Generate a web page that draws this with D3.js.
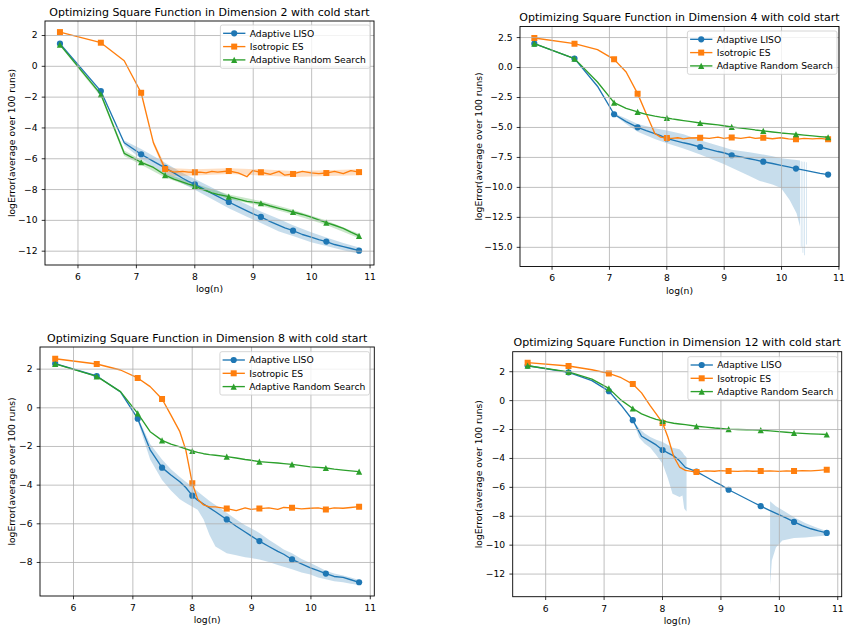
<!DOCTYPE html>
<html>
<head>
<meta charset="utf-8">
<script src="https://cdn.jsdelivr.net/npm/d3@7"></script>
<style>
	body { margin: 0; background: #fff; }
	svg text { font-family: "DejaVu Sans", sans-serif; fill: #000; }
</style>
</head>
<body>
<svg id="fig" width="850" height="632"></svg>
<script>
// log(n) grid shared by every curve, markers sit on a subset of it
var logN = [5.70, 6.40, 6.80, 7.09, 7.30, 7.50, 7.65, 7.80, 7.90, 8.01, 8.10, 8.20, 8.30, 8.40, 8.59, 8.75,
	8.90, 9.00, 9.14, 9.30, 9.45, 9.55, 9.69, 9.85, 10.00, 10.13, 10.26, 10.40, 10.55, 10.68, 10.82];
var markerIdx = [0, 1, 3, 5, 9, 14, 18, 22, 26, 30];
var seriesNames = ["Adaptive LISO", "Isotropic ES", "Adaptive Random Search"];
var xTicks = [6, 7, 8, 9, 10, 11];

// dimension 2
var d2Liso = [1.44, -1.64, -4.99, -5.74, -6.2, -6.62, -6.95, -7.3, -7.5, -7.69, -7.88, -8.08, -8.28, -8.47, -8.84, -9.14,
	-9.41, -9.6, -9.81, -10.11, -10.36, -10.52, -10.7, -10.95, -11.12, -11.28, -11.41, -11.6, -11.74, -11.86, -12.0];
var d2Es = [2.19, 1.5, 0.33, -1.75, -5.0, -6.7, -6.9, -6.85, -6.9, -6.91, -6.9, -6.95, -6.85, -6.9, -6.83, -6.95,
	-7.2, -6.8, -6.91, -7.05, -6.85, -7.1, -7.02, -6.85, -6.95, -7.0, -6.96, -6.85, -7.0, -6.8, -6.9];
var d2Ars = [1.38, -1.85, -5.68, -6.26, -6.6, -7.09, -7.35, -7.55, -7.68, -7.8, -7.95, -8.1, -8.25, -8.35, -8.49, -8.65,
	-8.8, -8.85, -8.92, -9.1, -9.25, -9.35, -9.49, -9.65, -9.82, -10.0, -10.18, -10.35, -10.55, -10.8, -11.04];
var d2LisoBandX = [6.80, 7.09, 7.30, 7.50, 7.80, 8.01, 8.30, 8.59, 8.90, 9.14, 9.45, 9.69, 10.00, 10.26, 10.55, 10.82];
var d2LisoBandHi = [-4.85, -5.4, -5.85, -6.3, -6.95, -7.35, -7.9, -8.45, -9.0, -9.45, -9.95, -10.35, -10.8, -11.15, -11.5, -11.8];
var d2LisoBandLo = [-5.15, -6.05, -6.55, -7.0, -7.65, -8.05, -8.65, -9.25, -9.8, -10.2, -10.75, -11.05, -11.45, -11.7, -11.98, -12.2];
var d2EsBandX = [7.30, 7.50, 7.65, 8.01, 8.59, 9.14, 9.69, 10.26, 10.82];
var d2EsBandHi = [-4.85, -6.45, -6.65, -6.72, -6.65, -6.72, -6.82, -6.78, -6.72];
var d2EsBandLo = [-5.15, -6.95, -7.15, -7.12, -7.02, -7.12, -7.22, -7.16, -7.1];
var d2ArsBandX = [5.70, 6.40, 6.80, 7.09, 7.50, 8.01, 8.59, 9.14, 9.69, 10.26, 10.82];
var d2ArsBandHi = [1.45, -1.7, -5.5, -6.1, -6.95, -7.65, -8.35, -8.78, -9.35, -10.04, -10.9];
var d2ArsBandLo = [1.3, -2.0, -5.85, -6.42, -7.25, -7.95, -8.65, -9.08, -9.65, -10.34, -11.2];

// dimension 4
var d4Liso = [1.95, 0.7, -1.6, -3.94, -4.55, -5.03, -5.3, -5.55, -5.72, -5.97, -6.08, -6.2, -6.32, -6.42, -6.67, -6.87,
	-7.05, -7.15, -7.36, -7.5, -7.65, -7.75, -7.9, -8.05, -8.2, -8.33, -8.47, -8.6, -8.75, -8.87, -8.97];
var d4Es = [2.42, 1.95, 1.45, 0.64, -0.42, -2.22, -3.9, -5.55, -5.85, -5.93, -5.95, -5.9, -6.0, -5.92, -5.9, -5.95,
	-5.85, -5.95, -5.88, -5.95, -5.85, -5.95, -5.9, -5.98, -5.9, -6.0, -6.03, -5.95, -6.0, -5.95, -6.03];
var d4Ars = [1.95, 0.7, -1.25, -2.97, -3.45, -3.75, -3.95, -4.1, -4.18, -4.25, -4.33, -4.4, -4.47, -4.53, -4.67, -4.75,
	-4.83, -4.9, -5.0, -5.1, -5.18, -5.25, -5.33, -5.42, -5.5, -5.55, -5.61, -5.68, -5.75, -5.8, -5.86];
var d4LisoBandX = [7.09, 7.30, 7.50, 7.80, 8.01, 8.30, 8.59, 9.00, 9.14, 9.45, 9.63, 9.85, 10.00, 10.15, 10.27, 10.33,
	10.337, 10.345, 10.357, 10.365, 10.375, 10.387, 10.395, 10.405, 10.417, 10.425, 10.435, 10.447];
var d4LisoBandHi = [-3.85, -4.3, -4.75, -5.1, -5.3, -5.6, -6.1, -6.7, -6.9, -7.1, -7.25, -7.45, -7.6, -7.7, -7.75, -7.8,
	null, -7.85, -7.85, null, -7.9, -7.9, null, -7.9, -7.9, null, -7.95, -7.95];
var d4LisoBandLo = [-4.0, -4.75, -5.4, -6.0, -6.35, -6.8, -7.3, -8.1, -8.4, -9.1, -9.5, -9.8, -10.1, -11.1, -12.2, -13.3,
	null, -15.0, -15.0, null, -15.5, -15.5, null, -15.7, -15.7, null, -14.8, -14.8];

// dimension 8
var d8Liso = [2.26, 1.62, 0.8, -0.59, -2.2, -3.12, -3.5, -3.85, -4.15, -4.57, -4.8, -5.0, -5.2, -5.4, -5.8, -6.15,
	-6.45, -6.65, -6.92, -7.2, -7.45, -7.6, -7.87, -8.1, -8.3, -8.45, -8.6, -8.75, -8.8, -8.92, -9.05];
var d8Es = [2.51, 2.24, 1.93, 1.52, 1.07, 0.43, -0.4, -1.26, -2.2, -3.93, -4.75, -5.05, -5.15, -5.15, -5.24, -5.34,
	-5.2, -5.28, -5.24, -5.2, -5.28, -5.18, -5.2, -5.25, -5.22, -5.2, -5.28, -5.2, -5.22, -5.18, -5.14];
var d8Ars = [2.25, 1.6, 0.81, -0.31, -1.26, -1.71, -1.9, -2.05, -2.15, -2.26, -2.33, -2.4, -2.45, -2.48, -2.55, -2.62,
	-2.7, -2.74, -2.81, -2.85, -2.88, -2.91, -2.95, -3.02, -3.08, -3.11, -3.14, -3.2, -3.25, -3.29, -3.33];
var d8LisoBandX = [7.09, 7.30, 7.50, 7.65, 7.80, 7.90, 8.01, 8.10, 8.20, 8.30, 8.40, 8.59, 8.75, 8.90, 9.00, 9.14,
	9.30, 9.45, 9.55, 9.69, 9.85, 10.00, 10.13, 10.26, 10.40, 10.55, 10.68, 10.82];
var d8LisoBandHi = [-0.5, -1.9, -2.7, -3.2, -3.6, -3.85, -4.1, -4.35, -4.6, -4.85, -5.05, -5.45, -5.8, -6.1, -6.25, -6.5,
	-6.85, -7.15, -7.35, -7.55, -7.85, -8.05, -8.25, -8.45, -8.6, -8.7, -8.8, -8.93];
var d8LisoBandLo = [-0.7, -2.7, -3.76, -4.3, -4.75, -4.95, -5.14, -5.3, -5.8, -6.6, -7.2, -7.55, -7.65, -7.75, -7.8, -7.87,
	-8.0, -8.15, -8.25, -8.38, -8.55, -8.65, -8.8, -8.9, -9.0, -9.05, -9.12, -9.19];

// dimension 12
var d12Liso = [2.38, 1.92, 1.35, 0.62, -0.35, -1.39, -2.5, -2.85, -3.1, -3.45, -3.65, -3.85, -4.2, -4.65, -4.95, -5.3,
	-5.65, -5.85, -6.2, -6.53, -6.84, -7.05, -7.34, -7.64, -7.92, -8.16, -8.43, -8.68, -8.9, -9.05, -9.19];
var d12Es = [2.59, 2.36, 2.1, 1.85, 1.55, 1.11, 0.5, -0.4, -0.95, -1.58, -2.55, -3.9, -4.63, -4.86, -4.98, -4.9,
	-4.92, -4.88, -4.91, -4.93, -4.89, -4.92, -4.91, -4.9, -4.93, -4.89, -4.91, -4.88, -4.9, -4.86, -4.81];
var d12Ars = [2.38, 1.95, 1.45, 0.81, 0.0, -0.58, -0.95, -1.2, -1.33, -1.44, -1.52, -1.6, -1.65, -1.7, -1.81, -1.87,
	-1.93, -1.96, -2.01, -2.03, -2.05, -2.06, -2.08, -2.13, -2.18, -2.22, -2.27, -2.3, -2.33, -2.35, -2.38];
var d12LisoBandX = [7.50, 7.61, 7.70, 7.80, 7.90, 8.01, 8.10, 8.18, 8.30, 8.35, 8.38, 8.42, 9.00, 9.85, 9.88, 9.95,
	10.06, 10.26, 10.45, 10.63, 10.82];
var d12LisoBandHi = [-1.39, -1.97, -2.3, -2.55, -2.75, -2.9, -3.1, -3.3, -3.4, -3.6, -3.8, -3.95, null, -7.0, -7.1, -7.35,
	-7.6, -8.1, -8.5, -8.8, -9.05];
var d12LisoBandLo = [-1.39, -2.6, -3.0, -3.3, -3.8, -4.4, -5.4, -6.48, -6.7, -6.6, -7.5, -7.7, null, -12.8, -11.1, -10.2,
	-9.72, -9.54, -9.5, -9.44, -9.37];

var colors = ["#1f77b4", "#ff7f0e", "#2ca02c"];
var shapes = ["circle", "square", "triangle"];

var panels = [
	{ dim: 2, series: [d2Liso, d2Es, d2Ars],
		bands: [[0, d2LisoBandX, d2LisoBandLo, d2LisoBandHi], [1, d2EsBandX, d2EsBandLo, d2EsBandHi], [2, d2ArsBandX, d2ArsBandLo, d2ArsBandHi]],
		box: { l: 45, r: 374, t: 21, b: 265 }, xDom: [5.444, 11.076], yDom: [-12.93, 2.91],
		yTicks: [-12, -10, -8, -6, -4, -2, 0, 2], fmt: "d", ylabX: 15, legend: { r: 370, t: 25 } },
	{ dim: 4, series: [d4Liso, d4Es, d4Ars],
		bands: [[0, d4LisoBandX, d4LisoBandLo, d4LisoBandHi]],
		box: { l: 520, r: 839, t: 26.5, b: 266.5 }, xDom: [5.45, 11.01], yDom: [-16.64, 3.38],
		yTicks: [-15, -12.5, -10, -7.5, -5, -2.5, 0, 2.5], fmt: ".1f", ylabX: 482, legend: { r: 837, t: 31 } },
	{ dim: 8, series: [d8Liso, d8Es, d8Ars],
		bands: [[0, d8LisoBandX, d8LisoBandLo, d8LisoBandHi]],
		box: { l: 40, r: 374.3, t: 347, b: 596 }, xDom: [5.444, 11.076], yDom: [-9.76, 3.12],
		yTicks: [-8, -6, -4, -2, 0, 2], fmt: "d", ylabX: 15, legend: { r: 369.5, t: 351.7 } },
	{ dim: 12, series: [d12Liso, d12Es, d12Ars],
		bands: [[0, d12LisoBandX, d12LisoBandLo, d12LisoBandHi]],
		box: { l: 512.7, r: 841.7, t: 351.7, b: 596.7 }, xDom: [5.444, 11.076], yDom: [-13.6, 3.35],
		yTicks: [-12, -10, -8, -6, -4, -2, 0, 2], fmt: "d", ylabX: 482, legend: { r: 837.5, t: 356.7 } }
];

var svg = d3.select("#fig");

function markerPath(shape) {
	if (shape == "circle") return d3.symbol(d3.symbolCircle, Math.PI * 3.1 * 3.1)();
	if (shape == "square") return "M-3,-3H3V3H-3Z";
	return "M0,-3.1L3.1,3.1L-3.1,3.1Z";
}

function drawPanel(p, k) {
	var b = p.box;
	var x = d3.scaleLinear().domain(p.xDom).range([b.l, b.r]);
	var y = d3.scaleLinear().domain(p.yDom).range([b.b, b.t]);
	var g = svg.append("g");

	g.append("clipPath").attr("id", "clip" + k).append("rect")
		.attr("x", b.l).attr("y", b.t).attr("width", b.r - b.l).attr("height", b.b - b.t);
	var plot = g.append("g").attr("clip-path", "url(#clip" + k + ")");

	// shaded bands
	p.bands.forEach(function(bd) {
		var pts = bd[1].map(function(xv, i) { return { x: xv, lo: bd[2][i], hi: bd[3][i] }; });
		var area = d3.area().defined(function(d) { return d.lo != null; })
			.x(function(d) { return x(d.x); })
			.y0(function(d) { return y(d.lo); })
			.y1(function(d) { return y(d.hi); });
		plot.append("path").datum(pts).attr("d", area)
			.attr("fill", colors[bd[0]]).attr("fill-opacity", 0.25);
	});

	// grid
	var gx = g.append("g").attr("transform", "translate(0," + b.b + ")")
		.call(d3.axisBottom(x).tickValues(xTicks).tickSize(-(b.b - b.t)).tickFormat(""));
	var gy = g.append("g").attr("transform", "translate(" + b.l + ",0)")
		.call(d3.axisLeft(y).tickValues(p.yTicks).tickSize(-(b.r - b.l)).tickFormat(""));
	[gx, gy].forEach(function(a) {
		a.select(".domain").remove();
		a.selectAll("line").attr("stroke", "#b0b0b0").attr("stroke-width", 0.8);
	});

	// lines and markers
	p.series.forEach(function(vals, s) {
		var pts = logN.map(function(xv, i) { return [xv, vals[i]]; });
		var line = d3.line().x(function(d) { return x(d[0]); }).y(function(d) { return y(d[1]); });
		plot.append("path").datum(pts).attr("d", line)
			.attr("fill", "none").attr("stroke", colors[s]).attr("stroke-width", 1.35)
			.attr("stroke-linejoin", "round");
		plot.selectAll(null).data(markerIdx).enter().append("path")
			.attr("d", markerPath(shapes[s]))
			.attr("transform", function(i) { return "translate(" + x(logN[i]) + "," + y(vals[i]) + ")"; })
			.attr("fill", colors[s]);
	});

	// spines
	g.append("rect").attr("x", b.l).attr("y", b.t).attr("width", b.r - b.l).attr("height", b.b - b.t)
		.attr("fill", "none").attr("stroke", "#000").attr("stroke-width", 0.9);

	// axes
	var ax = g.append("g").attr("transform", "translate(0," + b.b + ")")
		.call(d3.axisBottom(x).tickValues(xTicks).tickSize(3.3).tickPadding(5).tickFormat(d3.format("d")));
	var ay = g.append("g").attr("transform", "translate(" + b.l + ",0)")
		.call(d3.axisLeft(y).tickValues(p.yTicks).tickSize(3.3).tickPadding(4.2).tickFormat(d3.format(p.fmt)));
	[ax, ay].forEach(function(a) {
		a.select(".domain").remove();
		a.attr("font-family", null).attr("font-size", null);
		a.selectAll("line").attr("stroke", "#000").attr("stroke-width", 0.8);
		a.selectAll("text").style("font-size", "9.2px");
	});

	// title and labels
	g.append("text").attr("x", (b.l + b.r) / 2).attr("y", b.t - 5.3).attr("text-anchor", "middle")
		.style("font-size", "11px").text("Optimizing Square Function in Dimension " + p.dim + " with cold start");
	g.append("text").attr("x", (b.l + b.r) / 2).attr("y", b.b + 27).attr("text-anchor", "middle")
		.style("font-size", "9.2px").text("log(n)");
	g.append("text").attr("transform", "translate(" + p.ylabX + "," + ((b.t + b.b) / 2) + ") rotate(-90)")
		.attr("text-anchor", "middle").style("font-size", "9.2px").text("logError(average over 100 runs)");

	drawLegend(g, p.legend);
}

function drawLegend(g, pos) {
	var lg = g.append("g");
	var frame = lg.append("rect");
	var texts = seriesNames.map(function(name, i) {
		return lg.append("text").attr("y", pos.t + 8.3 + i * 13.3 + 3.3).style("font-size", "9.2px").text(name);
	});
	var w = d3.max(texts, function(t) { return t.node().getComputedTextLength(); }) + 33.5;
	var lx = pos.r - w;
	frame.attr("x", lx).attr("y", pos.t).attr("width", w).attr("height", 43.3).attr("rx", 2)
		.attr("fill", "#fff").attr("fill-opacity", 0.8).attr("stroke", "#cccccc").attr("stroke-width", 0.8);
	texts.forEach(function(t, i) {
		var cy = pos.t + 8.3 + i * 13.3;
		t.attr("x", lx + 29.3);
		lg.append("line").attr("x1", lx + 2.7).attr("x2", lx + 25).attr("y1", cy).attr("y2", cy)
			.attr("stroke", colors[i]).attr("stroke-width", 1.35);
		lg.append("path").attr("d", markerPath(shapes[i]))
			.attr("transform", "translate(" + (lx + 13.8) + "," + cy + ")").attr("fill", colors[i]);
	});
}

panels.forEach(drawPanel);
</script>
</body>
</html>
